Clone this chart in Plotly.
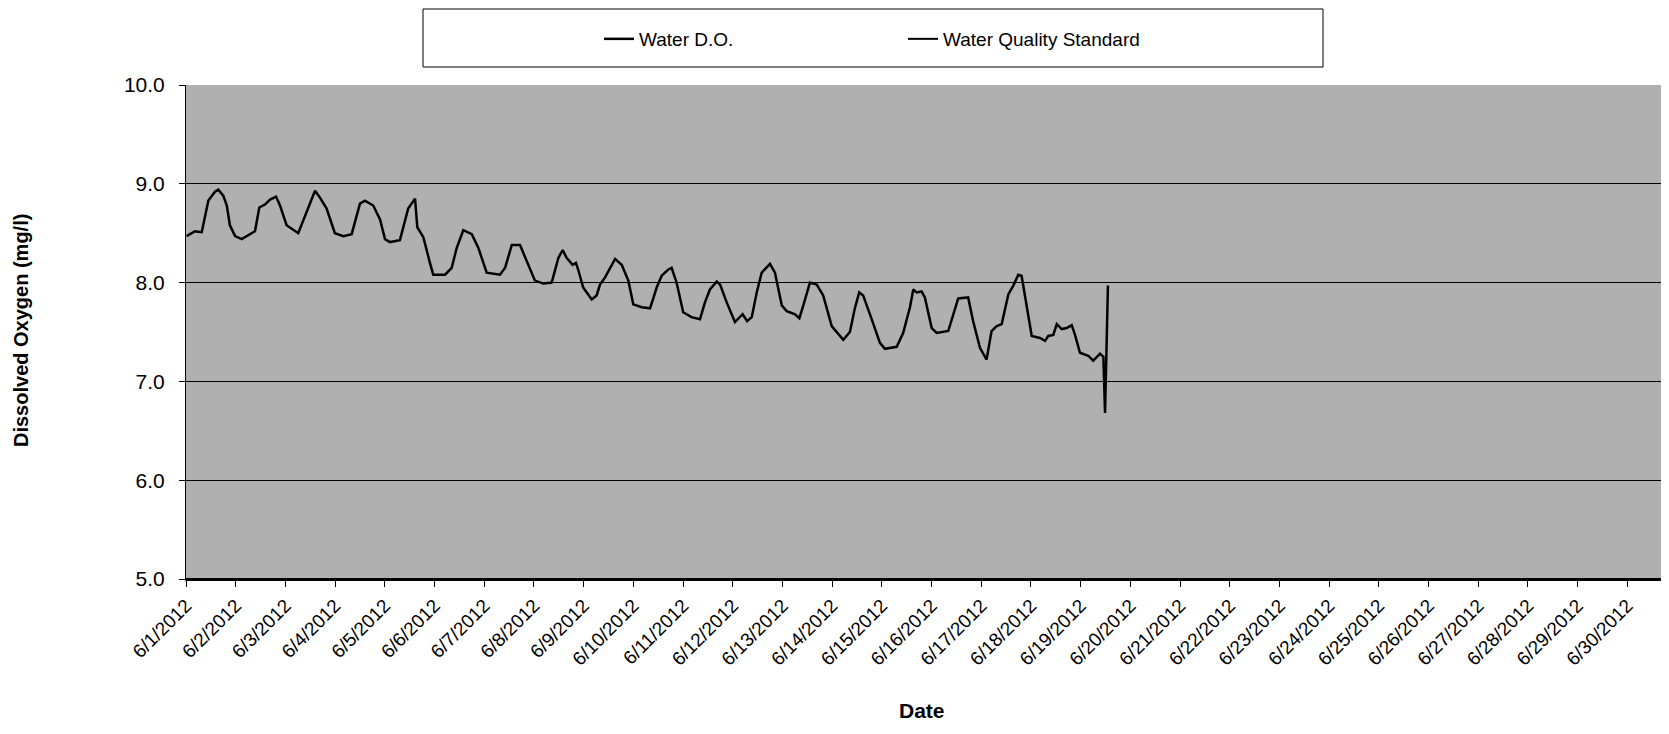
import pandas as pd
import plotly.graph_objects as go

# ---- data (hours since 6/1/2012 00:00, dissolved oxygen mg/l) ----
do_hours = [0.3, 4.3, 7.6, 9.2, 10.8, 14.0, 15.6, 18.0, 19.7, 21.2,
            23.7, 26.9, 29.3, 33.3, 35.4, 38.1, 40.6, 43.5, 45.4, 48.6,
            54.2, 58.3, 62.3, 64.7, 67.9, 71.9, 76.0, 80.0, 84.0, 86.4,
            90.4, 93.7, 96.1, 98.5, 103.3, 107.3, 110.6, 111.7, 114.6, 117.8,
            119.4, 125.1, 128.3, 130.7, 133.9, 138.0, 141.2, 145.2, 151.6, 154.1,
            157.3, 161.3, 165.3, 168.5, 172.6, 176.6, 179.8, 181.9, 183.8, 186.7,
            188.3, 189.4, 191.8, 195.9, 198.3, 199.9, 202.3, 207.2, 210.4, 213.6,
            216.0, 220.1, 224.1, 227.3, 229.7,
            232.8, 234.5, 236.9, 240.1, 244.1, 248.2, 250.6, 253.0, 256.3, 257.9,
            261.1, 265.1, 268.8, 271.0, 273.2, 275.6, 278.0, 282.0, 284.4, 287.7,
            290.1, 294.1, 296.2, 298.1, 301.3, 304.6, 307.7, 311.8, 317.4, 320.6,
            323.0, 325.1, 327.0, 331.1, 335.1, 337.5, 343.2, 346.3,
            349.6, 351.2, 352.8, 355.2, 356.8, 360.1, 362.5, 368.1, 370.5, 372.9,
            377.7, 380.1, 383.4, 386.6, 389.0, 391.5, 393.9, 397.1, 399.5, 401.9,
            403.5, 406.0, 408.4, 412.4, 414.8, 416.4, 418.8, 420.5, 422.9, 425.3,
            427.7, 429.3, 431.7, 435.7, 438.1, 441.4, 443.0, 443.8, 445.2]

do_values = [8.47, 8.52, 8.51, 8.68, 8.83, 8.92, 8.94, 8.88, 8.78, 8.58,
             8.47, 8.44, 8.47, 8.52, 8.76, 8.79, 8.84, 8.87, 8.78, 8.58,
             8.50, 8.71, 8.93, 8.86, 8.75, 8.50, 8.47, 8.49, 8.80, 8.83,
             8.78, 8.64, 8.44, 8.41, 8.43, 8.75, 8.85, 8.56, 8.46, 8.20,
             8.08, 8.08, 8.15, 8.35, 8.53, 8.49, 8.35, 8.10, 8.08, 8.15,
             8.38, 8.38, 8.18, 8.02, 7.99, 8.00, 8.25, 8.33, 8.25, 8.18,
             8.20, 8.13, 7.95, 7.83, 7.87, 7.98, 8.05, 8.24, 8.18, 8.02,
             7.78, 7.75, 7.74, 7.95, 8.07,
             8.13, 8.15, 8.00, 7.70, 7.65, 7.63, 7.80, 7.93, 8.01, 7.98,
             7.80, 7.60, 7.68, 7.61, 7.65, 7.90, 8.10, 8.19, 8.10, 7.77,
             7.71, 7.68, 7.64, 7.77, 8.00, 7.98, 7.87, 7.56, 7.42, 7.50,
             7.74, 7.90, 7.87, 7.63, 7.39, 7.33, 7.35, 7.49,
             7.75, 7.93, 7.90, 7.91, 7.85, 7.54, 7.49, 7.51, 7.68, 7.84,
             7.85, 7.61, 7.34, 7.22, 7.51, 7.56, 7.58, 7.88, 7.97, 8.08,
             8.07, 7.78, 7.46, 7.44, 7.41, 7.46, 7.47, 7.58, 7.53, 7.54,
             7.57, 7.47, 7.29, 7.26, 7.21, 7.28, 7.25, 6.68, 7.97]

standard_dates = ["2012-06-01", "2012-07-01"]
standard_values = [5.0, 5.0]

y_ticks = [5.0, 6.0, 7.0, 8.0, 9.0, 10.0]

start = pd.Timestamp("2012-06-01")
do_times = start + pd.to_timedelta(do_hours, unit="h")

# page is rendered with an 8px body margin; figure coordinates = page - 8
OFF = 8
W, H = 1669 - 2 * OFF, 734 - 2 * OFF
L, T = 186 - OFF, 85 - OFF
PLOT_BOTTOM = 579 - OFF
R = 0
B = H - PLOT_BOTTOM
FONT = "Liberation Sans, Arial, sans-serif"

fig = go.Figure()
fig.add_trace(go.Scatter(x=do_times, y=do_values, mode="lines", name="Water D.O.",
                         line=dict(color="black", width=2.5)))
fig.add_trace(go.Scatter(x=pd.to_datetime(standard_dates), y=standard_values, mode="lines",
                         name="Water Quality Standard", line=dict(color="black", width=2),
                         cliponaxis=False))

plot_w = W - L - R
plot_h = H - T - B


def px_x(px):
    return (px - OFF - L) / plot_w


def px_y(py):
    return (PLOT_BOTTOM - (py - OFF)) / plot_h


fig.update_layout(
    width=W, height=H,
    margin=dict(l=L, r=R, t=T, b=B, autoexpand=False),
    paper_bgcolor="white",
    plot_bgcolor="#b0b0b0",
    font=dict(family=FONT, color="black"),
    showlegend=True,
    legend=dict(orientation="h", xref="container", yref="container",
                x=591 / W, y=1 - (39 - OFF) / H, xanchor="left", yanchor="middle",
                font=dict(size=19), bgcolor="rgba(0,0,0,0)", borderwidth=0,
                entrywidth=259, entrywidthmode="pixels"),
    shapes=[dict(type="rect", xref="paper", yref="paper",
                 x0=px_x(423), x1=px_x(1323), y0=px_y(67), y1=px_y(9),
                 line=dict(color="black", width=1), fillcolor="rgba(0,0,0,0)")],
    annotations=[
        dict(text="<b>Dissolved Oxygen (mg/l)</b>", xref="paper", yref="paper",
             x=px_x(21), y=px_y(331), textangle=-90, showarrow=False,
             font=dict(size=20, family=FONT), xanchor="center", yanchor="middle"),
        dict(text="<b>Date</b>", xref="paper", yref="paper",
             x=px_x(922), y=px_y(710), showarrow=False,
             font=dict(size=21, family=FONT), xanchor="center", yanchor="middle"),
    ],
)

days_visible = plot_w / 49.7
fig.update_xaxes(type="date",
                 range=[start, start + pd.Timedelta(days=days_visible)],
                 tick0=start, dtick=86400000, tickformat="%-m/%-d/%Y",
                 tickangle=-45, tickfont=dict(size=19, family=FONT),
                 showgrid=False, zeroline=False,
                 showline=True, linecolor="black", linewidth=2,
                 ticks="outside", ticklen=6, tickcolor="black")
fig.update_yaxes(range=[5, 10], tickvals=y_ticks, tickformat=".1f",
                 tickfont=dict(size=21, family=FONT),
                 showgrid=True, gridcolor="black", gridwidth=1, zeroline=False,
                 showline=True, linecolor="black", linewidth=1,
                 ticks="outside", ticklen=6, tickcolor="black",
                 ticklabelstandoff=10)

fig.write_html("out.html")
